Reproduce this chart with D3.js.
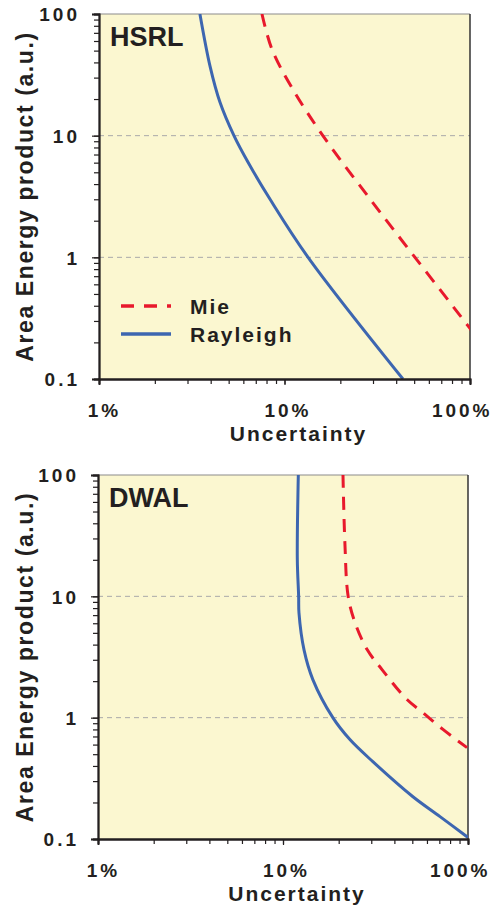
<!DOCTYPE html>
<html>
<head>
<meta charset="utf-8">
<script src="https://cdn.jsdelivr.net/npm/d3@7/dist/d3.min.js"></script>
<style>
  body { margin: 0; background: #fff; }
  text { font-family: "Liberation Sans", Arial, sans-serif; font-weight: bold; fill: #231f20; }
</style>
</head>
<body>
<div id="chart"></div>
<script>
// tick values / labels
var uncertaintyTicks = [1, 10, 100];
var uncertaintyLabels = ["1%", "10%", "100%"];
var energyTicks = [0.1, 1, 10, 100];
var energyLabels = ["0.1", "1", "10", "100"];

// series (uncertainty in %, area energy product in a.u.)
var hsrlMieU = [7.56, 8.56, 11.1, 16.1, 28.2, 50.5, 96.4, 113];
var hsrlMieE = [100, 51.2, 24.0, 10, 3.17, 1, 0.28, 0.204];
var hsrlRayleighU = [3.5, 3.97, 4.49, 5.34, 6.36, 8.36, 13.4, 43.5];
var hsrlRayleighE = [100, 37.1, 18.8, 10, 6.04, 3.0, 1, 0.1];

var dwalMieU = [21.1, 21.6, 22.5, 24.5, 28.5, 34.3, 46.8, 57.1, 73.2, 98.8];
var dwalMieE = [100, 27.7, 10, 6.07, 3.64, 2.49, 1.41, 1.1, 0.80, 0.566];
var dwalRayleighU = [12.1, 11.95, 12.15, 12.2, 13.0, 14.5, 18.6, 23.0, 30.6, 50.4, 70.6, 100];
var dwalRayleighE = [100, 20.1, 10, 7.3, 3.6, 2.06, 1, 0.66, 0.434, 0.223, 0.153, 0.103];

var mieColor = "#e8192c";
var rayleighColor = "#3d66b0";
var plotFill = "#fbf7d0";

var svgWidth = 493;
var svgHeight = 909;

var svg = d3.select("#chart")
  .append("svg")
  .attr("width", svgWidth)
  .attr("height", svgHeight);

var panels = [
  { name: "HSRL", left: 99, right: 470, top: 14, bottom: 379, legend: true,
    mie: [hsrlMieU, hsrlMieE], rayleigh: [hsrlRayleighU, hsrlRayleighE] },
  { name: "DWAL", left: 98, right: 468, top: 475, bottom: 839, legend: false,
    mie: [dwalMieU, dwalMieE], rayleigh: [dwalRayleighU, dwalRayleighE] }
];

panels.forEach(function(p, i) {
  var x = d3.scaleLog().domain([1, 100]).range([p.left, p.right]);
  var y = d3.scaleLog().domain([0.1, 100]).range([p.bottom, p.top]);
  var w = p.right - p.left;
  var h = p.bottom - p.top;

  svg.append("rect")
    .attr("x", p.left).attr("y", p.top)
    .attr("width", w).attr("height", h)
    .attr("fill", plotFill);

  // dashed grid at 1 and 10
  svg.selectAll(".grid" + i)
    .data([1, 10])
    .enter()
    .append("line")
    .attr("x1", p.left).attr("x2", p.right)
    .attr("y1", d => y(d)).attr("y2", d => y(d))
    .attr("stroke", "#a9a9a9")
    .attr("stroke-width", 1)
    .attr("stroke-dasharray", "5,4");

  // frame top/right
  svg.append("line")
    .attr("x1", p.left).attr("x2", p.right)
    .attr("y1", p.top).attr("y2", p.top)
    .attr("stroke", "#8c8c8c").attr("stroke-width", 1.2);
  svg.append("line")
    .attr("x1", p.right).attr("x2", p.right)
    .attr("y1", p.top).attr("y2", p.bottom)
    .attr("stroke", "#333").attr("stroke-width", 1.5);

  // clip curves to the plot area
  svg.append("clipPath").attr("id", "clip" + i)
    .append("rect")
    .attr("x", p.left).attr("y", p.top)
    .attr("width", w).attr("height", h);

  var line = d3.line()
    .x(d => x(d[0]))
    .y(d => y(d[1]))
    .curve(d3.curveCatmullRom.alpha(0.5));

  var mieData = p.mie[0].map((u, k) => [u, p.mie[1][k]]);
  var rayData = p.rayleigh[0].map((u, k) => [u, p.rayleigh[1][k]]);

  svg.append("path")
    .datum(rayData)
    .attr("clip-path", "url(#clip" + i + ")")
    .attr("fill", "none")
    .attr("stroke", rayleighColor)
    .attr("stroke-width", 3)
    .attr("d", line);

  svg.append("path")
    .datum(mieData)
    .attr("clip-path", "url(#clip" + i + ")")
    .attr("fill", "none")
    .attr("stroke", mieColor)
    .attr("stroke-width", 3)
    .attr("stroke-dasharray", "13,9")
    .attr("d", line);

  // axes
  var yMinor = d3.axisLeft(y).tickValues(y.ticks()).tickSize(5).tickFormat("");
  var yMajor = d3.axisLeft(y).tickValues(energyTicks).tickSize(7)
    .tickFormat((d, k) => energyLabels[k]);
  var xMinor = d3.axisBottom(x).tickValues(x.ticks()).tickSize(5).tickFormat("");
  var xMajor = d3.axisBottom(x).tickValues(uncertaintyTicks).tickSize(6)
    .tickFormat((d, k) => uncertaintyLabels[k]);

  var gy = svg.append("g").attr("transform", `translate(${p.left},0)`);
  gy.call(yMinor);
  var gy2 = svg.append("g").attr("transform", `translate(${p.left},0)`).call(yMajor);
  var gx = svg.append("g").attr("transform", `translate(0,${p.bottom})`);
  gx.call(xMinor);
  var gx2 = svg.append("g").attr("transform", `translate(0,${p.bottom})`).call(xMajor);

  [gy, gy2, gx, gx2].forEach(function(g) {
    g.select(".domain").attr("stroke", "#231f20").attr("stroke-width", 1.8);
    g.selectAll(".tick line").attr("stroke", "#231f20").attr("stroke-width", 1.2);
  });

  gy2.selectAll(".tick text")
    .attr("x", -19)
    .attr("dy", "0.36em")
    .style("font-size", "19px")
    .style("letter-spacing", "3px")
    .attr("fill", "#231f20");

  gx2.selectAll(".tick text")
    .attr("y", 38)
    .attr("dy", 0)
    .attr("dx", (d, k) => [5, 3, 0][k])
    .attr("text-anchor", (d, k) => k === 2 ? "end" : "middle")
    .attr("x", (d, k) => k === 2 ? 22 : 0)
    .style("font-size", "19px")
    .style("letter-spacing", "3px")
    .attr("fill", "#231f20");

  gy.attr("font-family", null);
  gy2.attr("font-family", null).attr("font-size", null);
  gx2.attr("font-family", null).attr("font-size", null);

  // axis titles
  svg.append("text")
    .attr("x", (p.left + p.right) / 2 + 14)
    .attr("y", p.bottom + 62)
    .attr("text-anchor", "middle")
    .style("font-size", "21px")
    .style("letter-spacing", "2px")
    .text("Uncertainty");

  svg.append("text")
    .attr("transform", `translate(33,${(p.top + p.bottom) / 2}) rotate(-90)`)
    .attr("text-anchor", "middle")
    .style("font-size", "23px")
    .style("letter-spacing", "1.6px")
    .text("Area Energy product (a.u.)");

  // panel name
  svg.append("text")
    .attr("x", p.left + 11)
    .attr("y", p.top + 32)
    .style("font-size", "27px")
    .text(p.name);

  if (p.legend) {
    var legend = [
      { label: "Mie", color: mieColor, dash: "13,10", y: 306 },
      { label: "Rayleigh", color: rayleighColor, dash: null, y: 334 }
    ];
    legend.forEach(function(l) {
      svg.append("line")
        .attr("x1", 121).attr("x2", 171)
        .attr("y1", l.y).attr("y2", l.y)
        .attr("stroke", l.color)
        .attr("stroke-width", 3.5)
        .attr("stroke-dasharray", l.dash);
      svg.append("text")
        .attr("x", 190)
        .attr("y", l.y + 8)
        .style("font-size", "21px")
        .style("letter-spacing", "2px")
        .text(l.label);
    });
  }
});
</script>
</body>
</html>
